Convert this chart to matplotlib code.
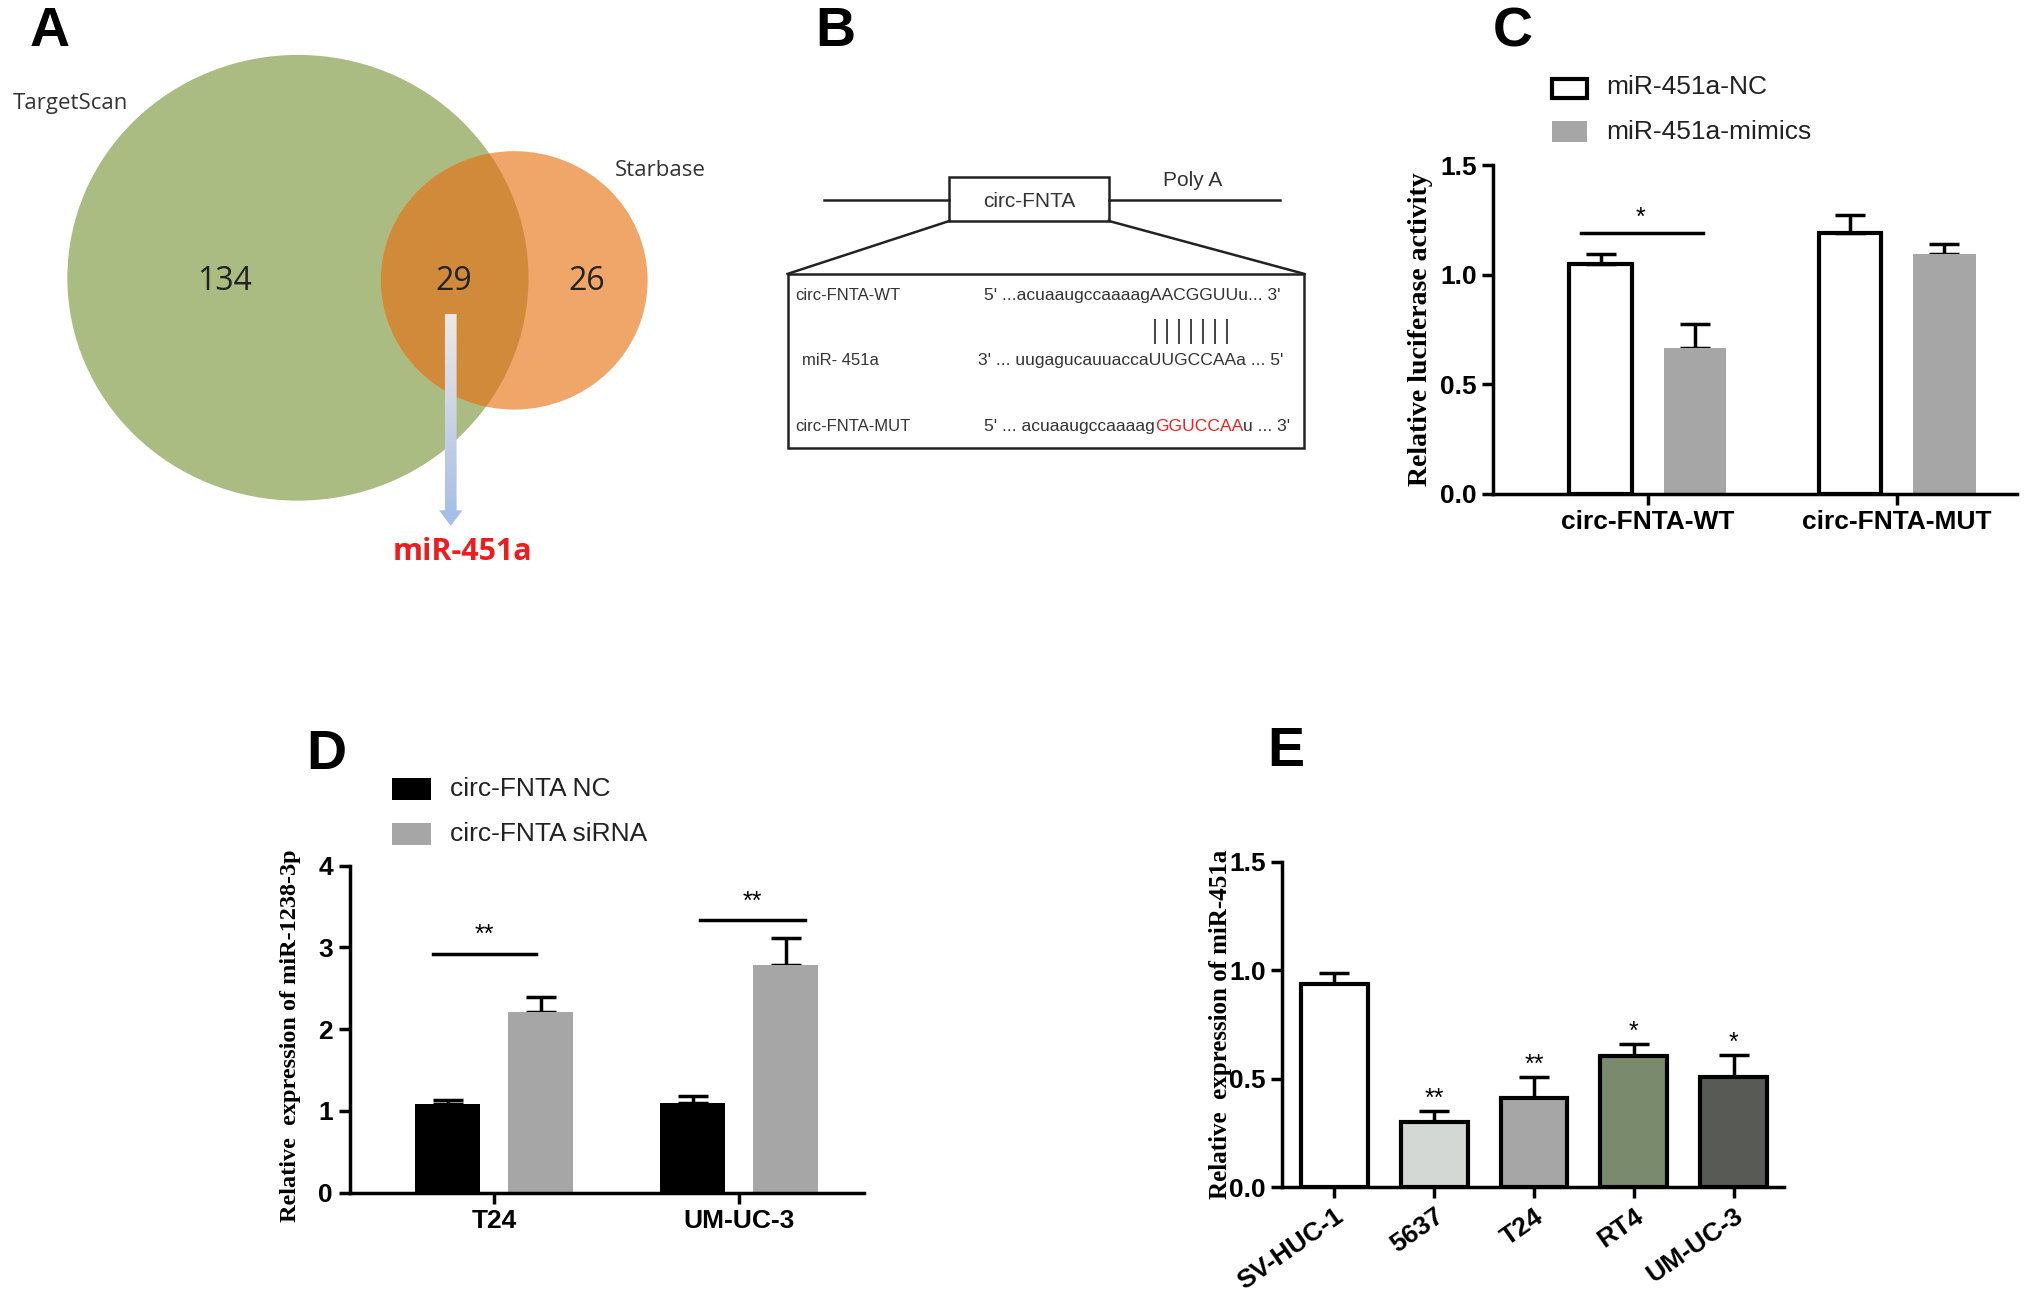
import numpy as np
import matplotlib.pyplot as plt
from matplotlib.patches import Ellipse, Rectangle, FancyArrow
from matplotlib.colors import LinearSegmentedColormap

plt.rcParams['font.family'] = ['Liberation Sans', 'DejaVu Sans']

# ---- data ----
# A: venn
venn_names = ["TargetScan", "Starbase"]
venn_counts = [134, 29, 26]
venn_hit = "miR-451a"

# C: luciferase
c_groups = ["circ-FNTA-WT", "circ-FNTA-MUT"]
c_series = ["miR-451a-NC", "miR-451a-mimics"]
c_nc = [1.05, 1.19]
c_nc_err = [0.045, 0.085]
c_mim = [0.665, 1.095]
c_mim_err = [0.11, 0.045]

# D: miR-1238-3p expression
d_groups = ["T24", "UM-UC-3"]
d_series = ["circ-FNTA NC", "circ-FNTA siRNA"]
d_nc = [1.08, 1.10]
d_nc_err = [0.05, 0.08]
d_si = [2.21, 2.78]
d_si_err = [0.18, 0.34]
d_sig = ["**", "**"]
d_sig_y = [2.92, 3.33]

# E: miR-451a expression in cell lines
e_cells = ["SV-HUC-1", "5637", "T24", "RT4", "UM-UC-3"]
e_vals = [0.935, 0.30, 0.41, 0.605, 0.51]
e_err = [0.052, 0.053, 0.10, 0.054, 0.10]
e_sig = ["", "**", "**", "*", "*"]
e_colors = ["#ffffff", "#d3d8d5", "#a6a6a6", "#7a8b6d", "#585a55"]

GRAY = "#a6a6a6"
W, H = 1568.0, 1000.0
SERIF = ["Liberation Serif", "DejaVu Serif"]


def fbox(x0, y0, x1, y1):
    # pixel box (top-left origin) -> figure fraction rect
    return [x0 / W, 1 - y1 / H, (x1 - x0) / W, (y1 - y0) / H]


def style_axes(ax, yticks, ylabels):
    for s in ["top", "right"]:
        ax.spines[s].set_visible(False)
    for s in ["left", "bottom"]:
        ax.spines[s].set_linewidth(2.5)
    ax.tick_params(width=2.5, length=8, labelsize=19, pad=4)
    ax.set_yticks(yticks)
    ax.set_yticklabels(ylabels, fontweight="bold")


fig = plt.figure(figsize=(20.31, 12.92), dpi=100)

# overlay for diagrams and panel letters
ov = fig.add_axes([0, 0, 1, 1])
ov.set_xlim(0, W)
ov.set_ylim(H, 0)
ov.set_autoscale_on(False)
ov.axis("off")

for letter, (lx, ly) in zip("ABCDE", [(38, 25), (645, 25), (1168, 25), (252, 584), (993, 582)]):
    ov.text(lx, ly, letter, fontsize=40, fontweight="bold", ha="center", va="center")

# ---- A: venn ----
green = Ellipse((230, 215), 356, 345, fc="#aabc82", ec="none")
ov.add_patch(green)
orange = Ellipse((397, 217), 206, 200, fc="#f0a569", ec="none")
ov.add_patch(orange)
inter = Ellipse((397, 217), 206, 200, fc="#d08a3a", ec="none")
ov.add_patch(inter)
inter.set_clip_path(green)

ov.text(10, 80, venn_names[0], fontsize=16, color="#333333", va="center", family=["Open Sans", "DejaVu Sans"])
ov.text(475, 132, venn_names[1], fontsize=16, color="#333333", va="center", family=["Open Sans", "DejaVu Sans"])
for cx, n in zip([173, 350, 453], venn_counts):
    ov.text(cx, 218, str(n), fontsize=23, ha="center", va="center", color="#222222",
            family=["Open Sans", "DejaVu Sans"])

arr = FancyArrow(348, 243, 0, 164, width=9, head_width=18, head_length=12,
                 length_includes_head=True, fc="none", ec="none")
ov.add_patch(arr)
cmap = LinearSegmentedColormap.from_list("arr", ["#efe8e2", "#a3bde8"])
im = ov.imshow(np.linspace(0, 1, 100).reshape(-1, 1), extent=(335, 361, 407, 243),
               cmap=cmap, aspect="auto", zorder=3)
im.set_clip_path(arr)
ov.text(357, 427, venn_hit, fontsize=22, fontweight="bold", color="#ee1c1c",
        ha="center", va="center", family=["Open Sans", "DejaVu Sans"])

# ---- B: binding site diagram ----
bf = ["Liberation Sans", "DejaVu Sans"]
ov.plot([636, 733], [155, 155], color="#222222", lw=1.8)
ov.plot([856, 988], [155, 155], color="#222222", lw=1.8)
ov.add_patch(Rectangle((733, 137), 123, 34, fc="white", ec="#222222", lw=1.8))
ov.text(795, 156, "circ-FNTA", fontsize=15, ha="center", va="center", family=bf, color="#333333")
ov.text(921, 140, "Poly A", fontsize=15, ha="center", va="center", family=bf, color="#333333")
ov.plot([733, 608], [171, 212], color="#222222", lw=1.8)
ov.plot([856, 1007], [171, 212], color="#222222", lw=1.8)
ov.add_patch(Rectangle((608, 212), 399, 135, fc="none", ec="#222222", lw=1.8))

ov.text(614, 229, "circ-FNTA-WT", fontsize=12, va="center", family=bf, color="#333333")
ov.text(619, 279, "miR- 451a", fontsize=12, va="center", family=bf, color="#333333")
ov.text(614, 330, "circ-FNTA-MUT", fontsize=12, va="center", family=bf, color="#333333")
ov.text(760, 229, "5' ...acuaaugccaaaagAACGGUUu... 3'", fontsize=12.6, va="center",
        family=bf, color="#333333")
ov.text(755, 279, "3' ... uugagucauuaccaUUGCCAAa ... 5'", fontsize=12.6, va="center",
        family=bf, color="#333333")
t1 = ov.text(760, 330, "5' ... acuaaugccaaaag", fontsize=12.6, va="center", family=bf, color="#333333")
t2 = ov.annotate("GGUCCAA", xy=(1, 0), xycoords=t1, va="bottom", fontsize=12.6,
                 family=bf, color="#ee2222")
ov.annotate("u ... 3'", xy=(1, 0), xycoords=t2, va="bottom", fontsize=12.6,
            family=bf, color="#333333")
ov.vlines(np.linspace(892, 947, 7), 247, 266, color="#333333", lw=1.3)

# ---- C: luciferase ----
axc = fig.add_axes(fbox(1153, 128, 1557, 382))
xc = np.arange(len(c_groups))
off, bw = 0.19, 0.25
axc.bar(xc - off, c_nc, bw, color="white", edgecolor="black", lw=3, zorder=2)
axc.errorbar(xc - off, c_nc, yerr=[np.zeros(2), c_nc_err], fmt="none", ecolor="black",
             elinewidth=2.5, capsize=11, capthick=2.5, zorder=3)
axc.bar(xc + off, c_mim, bw, color=GRAY, edgecolor="none", zorder=2)
axc.errorbar(xc + off, c_mim, yerr=[np.zeros(2), c_mim_err], fmt="none", ecolor="black",
             elinewidth=2.5, capsize=11, capthick=2.5, zorder=1)
axc.set_xlim(-0.62, 1.48)
axc.set_ylim(0, 1.5)
style_axes(axc, [0, 0.5, 1.0, 1.5], ["0.0", "0.5", "1.0", "1.5"])
axc.set_xticks(xc)
axc.set_xticklabels(c_groups, fontweight="bold", fontsize=19)
axc.plot([-0.27, 0.22], [1.19, 1.19], color="black", lw=2.5)
axc.text(-0.03, 1.205, "*", ha="center", va="bottom", fontsize=18)
axc.set_ylabel("Relative luciferase activity", fontsize=20, fontweight="bold", family=SERIF)
axc.yaxis.set_label_coords(-0.115, 0.5)
axc.add_patch(Rectangle((0.112, 1.205), 0.066, 0.058, transform=axc.transAxes, fc="white",
                        ec="black", lw=3, clip_on=False))
axc.add_patch(Rectangle((0.112, 1.07), 0.066, 0.065, transform=axc.transAxes, fc=GRAY,
                        ec="none", clip_on=False))
axc.text(0.215, 1.238, c_series[0], transform=axc.transAxes, fontsize=19, va="center", color="#222222")
axc.text(0.215, 1.103, c_series[1], transform=axc.transAxes, fontsize=19, va="center", color="#222222")

# ---- D: miR-1238-3p ----
axd = fig.add_axes(fbox(270, 670, 667, 923))
xd = np.arange(len(d_groups))
off, bw = 0.19, 0.265
axd.errorbar(xd - off, d_nc, yerr=[np.zeros(2), d_nc_err], fmt="none", ecolor="black",
             elinewidth=2.5, capsize=11, capthick=2.5, zorder=1)
axd.bar(xd - off, d_nc, bw, color="black", edgecolor="none", zorder=2)
axd.errorbar(xd + off, d_si, yerr=[np.zeros(2), d_si_err], fmt="none", ecolor="black",
             elinewidth=2.5, capsize=11, capthick=2.5, zorder=1)
axd.bar(xd + off, d_si, bw, color=GRAY, edgecolor="none", zorder=2)
axd.set_xlim(-0.59, 1.51)
axd.set_ylim(0, 4)
style_axes(axd, [0, 1, 2, 3, 4], ["0", "1", "2", "3", "4"])
axd.set_xticks(xd)
axd.set_xticklabels(d_groups, fontweight="bold", fontsize=19)
for xi, (l0, l1), s, yy in zip(xd, [(-0.25, 0.17), (-0.16, 0.27)], d_sig, d_sig_y):
    axd.plot([xi + l0, xi + l1], [yy, yy], color="black", lw=2.5)
    axd.text(xi + (l0 + l1) / 2, yy + 0.08, s, ha="center", va="bottom", fontsize=18)
axd.set_ylabel("Relative  expression of miR-1238-3p", fontsize=17.5, fontweight="bold", family=SERIF)
axd.yaxis.set_label_coords(-0.095, 0.48)
axd.add_patch(Rectangle((0.083, 1.2), 0.076, 0.068, transform=axd.transAxes, fc="black",
                        ec="none", clip_on=False))
axd.add_patch(Rectangle((0.083, 1.062), 0.076, 0.068, transform=axd.transAxes, fc=GRAY,
                        ec="none", clip_on=False))
axd.text(0.195, 1.234, d_series[0], transform=axd.transAxes, fontsize=19, va="center", color="#222222")
axd.text(0.195, 1.096, d_series[1], transform=axd.transAxes, fontsize=19, va="center", color="#222222")

# ---- E: miR-451a in cell lines ----
axe = fig.add_axes(fbox(990, 667, 1377, 919))
xe = np.arange(len(e_cells))
axe.errorbar(xe, e_vals, yerr=[np.zeros(len(xe)), e_err], fmt="none", ecolor="black",
             elinewidth=2.5, capsize=11, capthick=2.5, zorder=1)
axe.bar(xe, e_vals, 0.67, color=e_colors, edgecolor="black", lw=3, zorder=2)
for xi, v, er, s in zip(xe, e_vals, e_err, e_sig):
    if s:
        axe.text(xi, v + er, s, ha="center", va="bottom", fontsize=18)
axe.set_xlim(-0.52, 4.5)
axe.set_ylim(0, 1.5)
style_axes(axe, [0, 0.5, 1.0, 1.5], ["0.0", "0.5", "1.0", "1.5"])
axe.set_xticks(xe)
axe.set_xticklabels(e_cells, fontweight="bold", fontsize=19, rotation=35, ha="right",
                    rotation_mode="anchor")
axe.set_ylabel("Relative  expression of miR-451a", fontsize=18, fontweight="bold", family=SERIF)
axe.yaxis.set_label_coords(-0.1, 0.5)

fig.savefig("out.png", dpi=100)
